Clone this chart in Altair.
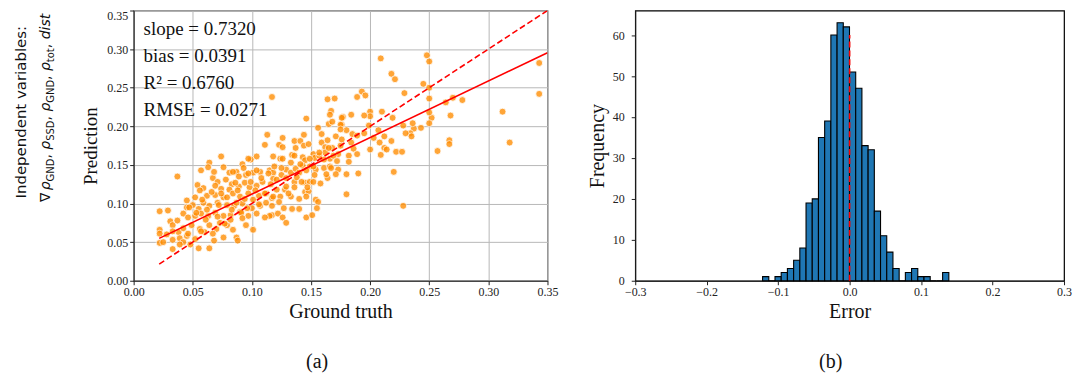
import altair as alt
import pandas as pd
import numpy as np

# ---------------- scatter data (ground truth, prediction) ----------------
gt_upper = [0.209, 0.248, 0.250, 0.218, 0.221, 0.245, 0.250, 0.189, 0.193, 0.196,
            0.229, 0.250, 0.264, 0.270, 0.278, 0.343, 0.343, 0.312, 0.318, 0.268,
            0.252, 0.250, 0.250, 0.243, 0.237, 0.236, 0.234, 0.235, 0.230, 0.228,
            0.219, 0.210, 0.200, 0.200, 0.195, 0.184, 0.177, 0.176, 0.180, 0.185,
            0.189, 0.195, 0.199, 0.203, 0.207, 0.208, 0.212, 0.218, 0.212, 0.214,
            0.200, 0.209, 0.222, 0.227, 0.257, 0.267, 0.267, 0.184, 0.186, 0.189,
            0.182, 0.182, 0.180, 0.190, 0.220, 0.180, 0.228]
pred_upper = [0.288, 0.292, 0.284, 0.268, 0.261, 0.255, 0.250, 0.238, 0.245, 0.240,
              0.243, 0.236, 0.231, 0.237, 0.234, 0.282, 0.242, 0.219, 0.179, 0.214,
              0.211, 0.218, 0.204, 0.198, 0.197, 0.204, 0.191, 0.187, 0.191, 0.201,
              0.211, 0.219, 0.219, 0.213, 0.214, 0.215, 0.212, 0.202, 0.195, 0.190,
              0.188, 0.191, 0.201, 0.185, 0.195, 0.179, 0.187, 0.181, 0.172, 0.170,
              0.170, 0.163, 0.167, 0.167, 0.168, 0.182, 0.177, 0.179, 0.171, 0.164,
              0.162, 0.154, 0.138, 0.139, 0.141, 0.112, 0.097]

gt_mid = [0.117, 0.164, 0.170, 0.146, 0.167, 0.166, 0.176, 0.165, 0.168, 0.175,
          0.156, 0.159, 0.144, 0.126, 0.136, 0.141, 0.123, 0.126, 0.137, 0.144,
          0.148, 0.159, 0.164, 0.171, 0.175, 0.162, 0.168, 0.118, 0.124, 0.134,
          0.136, 0.143, 0.145, 0.152, 0.153, 0.157, 0.162, 0.166, 0.173, 0.175,
          0.115, 0.118, 0.125, 0.129, 0.133, 0.137, 0.140, 0.143, 0.149, 0.154,
          0.161, 0.166, 0.173, 0.118, 0.129, 0.136, 0.145, 0.149, 0.152, 0.164,
          0.121, 0.128, 0.145, 0.148, 0.117, 0.124, 0.133, 0.140, 0.146, 0.154,
          0.156, 0.117, 0.127, 0.134, 0.140, 0.155, 0.117, 0.122, 0.126, 0.129,
          0.146, 0.151, 0.115]
pred_mid = [0.238, 0.235, 0.236, 0.210, 0.220, 0.215, 0.211, 0.203, 0.206, 0.202,
            0.198, 0.190, 0.189, 0.185, 0.181, 0.181, 0.176, 0.173, 0.172, 0.175,
            0.177, 0.179, 0.182, 0.187, 0.196, 0.173, 0.172, 0.161, 0.158, 0.163,
            0.162, 0.160, 0.156, 0.164, 0.159, 0.162, 0.166, 0.158, 0.164, 0.175,
            0.143, 0.140, 0.137, 0.144, 0.140, 0.145, 0.140, 0.149, 0.148, 0.144,
            0.146, 0.148, 0.144, 0.132, 0.133, 0.128, 0.127, 0.128, 0.128, 0.133,
            0.118, 0.118, 0.115, 0.116, 0.107, 0.109, 0.109, 0.106, 0.109, 0.105,
            0.102, 0.097, 0.094, 0.093, 0.093, 0.094, 0.085, 0.087, 0.082, 0.075,
            0.082, 0.085, 0.084]

gt_low = [0.113, 0.111, 0.074, 0.104, 0.099, 0.097, 0.092, 0.064, 0.063, 0.057,
          0.037, 0.076, 0.087, 0.081, 0.089, 0.095, 0.101, 0.107, 0.067, 0.071,
          0.078, 0.083, 0.054, 0.059, 0.069, 0.074, 0.081, 0.089, 0.094, 0.098,
          0.104, 0.109, 0.052, 0.045, 0.062, 0.069, 0.076, 0.084, 0.090, 0.097,
          0.106, 0.112, 0.045, 0.050, 0.055, 0.059, 0.064, 0.071, 0.079, 0.085,
          0.092, 0.100, 0.107, 0.022, 0.029, 0.031, 0.042, 0.046, 0.052, 0.057,
          0.063, 0.069, 0.076, 0.082, 0.090, 0.097, 0.104, 0.111, 0.022, 0.022,
          0.022, 0.033, 0.038, 0.033, 0.039, 0.045, 0.042, 0.033, 0.048, 0.052,
          0.056, 0.060, 0.064, 0.070, 0.073, 0.079, 0.084, 0.087, 0.088, 0.095,
          0.101, 0.055, 0.064, 0.068, 0.076]
pred_low = [0.189, 0.176, 0.161, 0.161, 0.157, 0.158, 0.151, 0.153, 0.147, 0.143,
            0.135, 0.147, 0.141, 0.140, 0.135, 0.137, 0.140, 0.141, 0.133, 0.128,
            0.131, 0.125, 0.124, 0.120, 0.123, 0.119, 0.118, 0.122, 0.127, 0.121,
            0.123, 0.128, 0.108, 0.104, 0.110, 0.111, 0.108, 0.113, 0.109, 0.113,
            0.110, 0.113, 0.095, 0.098, 0.093, 0.101, 0.097, 0.101, 0.098, 0.097,
            0.100, 0.094, 0.097, 0.090, 0.091, 0.077, 0.087, 0.082, 0.084, 0.087,
            0.084, 0.088, 0.084, 0.085, 0.089, 0.084, 0.087, 0.082, 0.066, 0.061,
            0.049, 0.072, 0.063, 0.053, 0.055, 0.058, 0.050, 0.041, 0.047, 0.054,
            0.067, 0.063, 0.072, 0.067, 0.075, 0.072, 0.066, 0.056, 0.052, 0.072,
            0.066, 0.042, 0.042, 0.052, 0.056]

gt_dense = [0.058, 0.066, 0.072, 0.079, 0.083, 0.088, 0.094, 0.099, 0.103, 0.108,
            0.112, 0.116, 0.121, 0.125, 0.129, 0.133, 0.138, 0.141, 0.146, 0.149,
            0.153, 0.157, 0.161, 0.165, 0.169, 0.172, 0.176, 0.049, 0.053, 0.061,
            0.067, 0.071, 0.077, 0.082, 0.087, 0.091, 0.096, 0.101, 0.106, 0.111,
            0.042, 0.046, 0.057, 0.062, 0.074, 0.086, 0.092, 0.118, 0.123, 0.131,
            0.136, 0.142, 0.147, 0.152, 0.158, 0.163, 0.167, 0.171, 0.126, 0.119,
            0.114, 0.104, 0.097, 0.093, 0.084, 0.068, 0.056, 0.047, 0.037, 0.033,
            0.028, 0.025, 0.039]
pred_dense = [0.105, 0.115, 0.098, 0.108, 0.092, 0.117, 0.106, 0.128, 0.117, 0.133,
              0.101, 0.125, 0.131, 0.146, 0.122, 0.153, 0.134, 0.151, 0.143, 0.158,
              0.137, 0.166, 0.157, 0.172, 0.162, 0.155, 0.183, 0.072, 0.088, 0.079,
              0.061, 0.083, 0.074, 0.079, 0.101, 0.088, 0.094, 0.105, 0.099, 0.113,
              0.068, 0.061, 0.064, 0.092, 0.113, 0.127, 0.081, 0.109, 0.102, 0.113,
              0.121, 0.128, 0.121, 0.148, 0.126, 0.138, 0.146, 0.138, 0.158, 0.148,
              0.139, 0.143, 0.139, 0.146, 0.141, 0.141, 0.117, 0.095, 0.078, 0.064,
              0.060, 0.050, 0.047]

slope, bias = 0.7320, 0.0391
stats_lines = ["slope = 0.7320", "bias = 0.0391", "R\u00b2 = 0.6760", "RMSE = 0.0271"]
line_x = [0.0216, 0.35]
axis_ticks_a = [0.0, 0.05, 0.10, 0.15, 0.20, 0.25, 0.30, 0.35]

# ---------------- histogram data ----------------
err_min, err_max = -0.1218, 0.1388
counts = [1, 0, 1, 2, 3, 5, 8, 19, 20, 35, 39, 60, 63, 62, 51,
          47, 33, 32, 17, 11, 7, 3, 0, 2, 3, 1, 1, 0, 0, 2]
axis_ticks_b_x = [-0.3, -0.2, -0.1, 0.0, 0.1, 0.2, 0.3]
axis_ticks_b_y = [0, 10, 20, 30, 40, 50, 60]

# ---------------- left rotated label pieces ----------------
label_line1 = "Independent variables:"
# (text, start position along the rotated line, italic, subscript)
label_pieces = [
    ("\u2207", 192.0, False, False),
    ("\u03c1", 180.3, True, False),
    ("GND", 171.4, False, True),
    (",", 148.5, False, False),
    ("\u03c1", 139.6, True, False),
    ("SSD", 130.7, False, True),
    (",", 110.3, False, False),
    ("\u03c1", 101.4, True, False),
    ("GND", 92.5, False, True),
    (",", 69.6, False, False),
    ("\u03c1", 60.7, True, False),
    ("tot", 51.8, False, True),
    (",", 37.8, False, False),
    ("dist", 28.9, True, False),
]

SERIF = "Liberation Serif"
W1, W2, H = 415, 430, 271

sc = pd.DataFrame({"gt": gt_upper + gt_mid + gt_low + gt_dense,
                   "pred": pred_upper + pred_mid + pred_low + pred_dense})
fit_df = pd.DataFrame({"x": line_x, "y": [slope * v + bias for v in line_x]})
id_df = pd.DataFrame({"x": line_x, "y": line_x})
one = pd.DataFrame({"a": [0]})

common_axis = dict(labelFont=SERIF, labelFontSize=12, labelColor="#222",
                   tickColor="#222", domainColor="#222", tickSize=4,
                   titleFont=SERIF, titleFontWeight="normal", titleColor="#111",
                   labelFlush=False, labelOverlap=False)

xs_a = alt.Scale(domain=[0, 0.35], nice=False, zero=False)
ys_a = alt.Scale(domain=[0, 0.35], nice=False, zero=False)
ax_xa = alt.Axis(values=axis_ticks_a, format=".2f", title="Ground truth",
                 titleFontSize=20, titlePadding=4, grid=True,
                 gridColor="#b8b8b8", gridWidth=1, **common_axis)
ax_ya = alt.Axis(values=axis_ticks_a, format=".2f", title="Prediction",
                 titleFontSize=19, titlePadding=6, grid=True,
                 gridColor="#b8b8b8", gridWidth=1,
                 labelBaseline={"condition": {"test": "datum.value > 0.34", "value": "top"},
                                "value": "middle"},
                 **common_axis)

pts = alt.Chart(sc).mark_circle(size=48, color="#ff8c00", opacity=0.78,
                                stroke="white", strokeWidth=0.8).encode(
    x=alt.X("gt:Q", scale=xs_a, axis=ax_xa), y=alt.Y("pred:Q", scale=ys_a, axis=ax_ya))
fit = alt.Chart(fit_df).mark_line(color="red", strokeWidth=1.6, clip=True).encode(
    x=alt.X("x:Q", scale=xs_a, axis=ax_xa), y=alt.Y("y:Q", scale=ys_a, axis=ax_ya))
ident = alt.Chart(id_df).mark_line(color="red", strokeWidth=1.6, strokeDash=[6, 3],
                                   clip=True).encode(
    x=alt.X("x:Q", scale=xs_a, axis=ax_xa), y=alt.Y("y:Q", scale=ys_a, axis=ax_ya))
stats = alt.Chart(one).mark_text(align="left", baseline="alphabetic", font=SERIF,
                                 fontSize=19, lineHeight=27, color="#111").encode(
    x=alt.value(10), y=alt.value(25), text=alt.value(stats_lines))

line1 = alt.Chart(one).mark_text(angle=270, align="center", baseline="alphabetic",
                                 font="DejaVu Sans", fontSize=15, color="#111").encode(
    x=alt.value(-108), y=alt.value(102), text=alt.value(label_line1))
pieces = []
for txt, pos, ital, sub in label_pieces:
    pieces.append(alt.Chart(one).mark_text(
        angle=270, align="left", baseline="alphabetic", font="DejaVu Sans",
        fontSize=10 if sub else 14, fontStyle="italic" if ital else "normal",
        color="#111").encode(
        x=alt.value(-80 if sub else -84), y=alt.value(pos), text=alt.value(txt)))
cap_a = alt.Chart(one).mark_text(align="center", baseline="middle", font=SERIF,
                                 fontSize=20, color="#111").encode(
    x=alt.value(184), y=alt.value(352), text=alt.value("(a)"))

left = alt.layer(pts, fit, ident, stats, line1, *pieces, cap_a).properties(
    width=W1, height=H, view=alt.ViewBackground(stroke="#555", strokeWidth=1.2))

# ---------------- right: histogram ----------------
edges = np.linspace(err_min, err_max, len(counts) + 1)
hist_df = pd.DataFrame({"lo": edges[:-1], "hi": edges[1:], "count": counts,
                        "base": [0] * len(counts)})
xs_b = alt.Scale(domain=[-0.3, 0.3], nice=False, zero=False)
ys_b = alt.Scale(domain=[0, 66], nice=False)
ax_xb = alt.Axis(values=axis_ticks_b_x, format=".1f", title="Error",
                 titleFontSize=20, titlePadding=4, grid=False, **common_axis)
ax_yb = alt.Axis(values=axis_ticks_b_y, format="d", title="Frequency",
                 titleFontSize=20, titlePadding=5, labelPadding=7, grid=False,
                 **common_axis)
bars = alt.Chart(hist_df).mark_bar(color="#1f77b4", stroke="black", strokeWidth=1.1).encode(
    x=alt.X("lo:Q", scale=xs_b, axis=ax_xb), x2="hi:Q",
    y=alt.Y("count:Q", scale=ys_b, axis=ax_yb), y2="base:Q")
vline = alt.Chart(pd.DataFrame({"x": [0.0], "y": [0], "y2": [60]})).mark_rule(
    color="red", strokeWidth=1.6, strokeDash=[6, 3]).encode(
    x=alt.X("x:Q", scale=xs_b, axis=ax_xb), y=alt.Y("y:Q", scale=ys_b, axis=ax_yb),
    y2="y2:Q")
cap_b = alt.Chart(one).mark_text(align="center", baseline="middle", font=SERIF,
                                 fontSize=20, color="#111").encode(
    x=alt.value(196), y=alt.value(352), text=alt.value("(b)"))

right = alt.layer(bars, vline, cap_b).properties(
    width=W2, height=H, view=alt.ViewBackground(stroke="black", strokeWidth=1.2))

chart = alt.hconcat(left, right, spacing=88, bounds="flush").configure(
    padding={"left": 5, "top": 0, "right": 0, "bottom": 0}, background="white")

chart.save("out.html", embed_options={"renderer": "svg", "actions": False})
